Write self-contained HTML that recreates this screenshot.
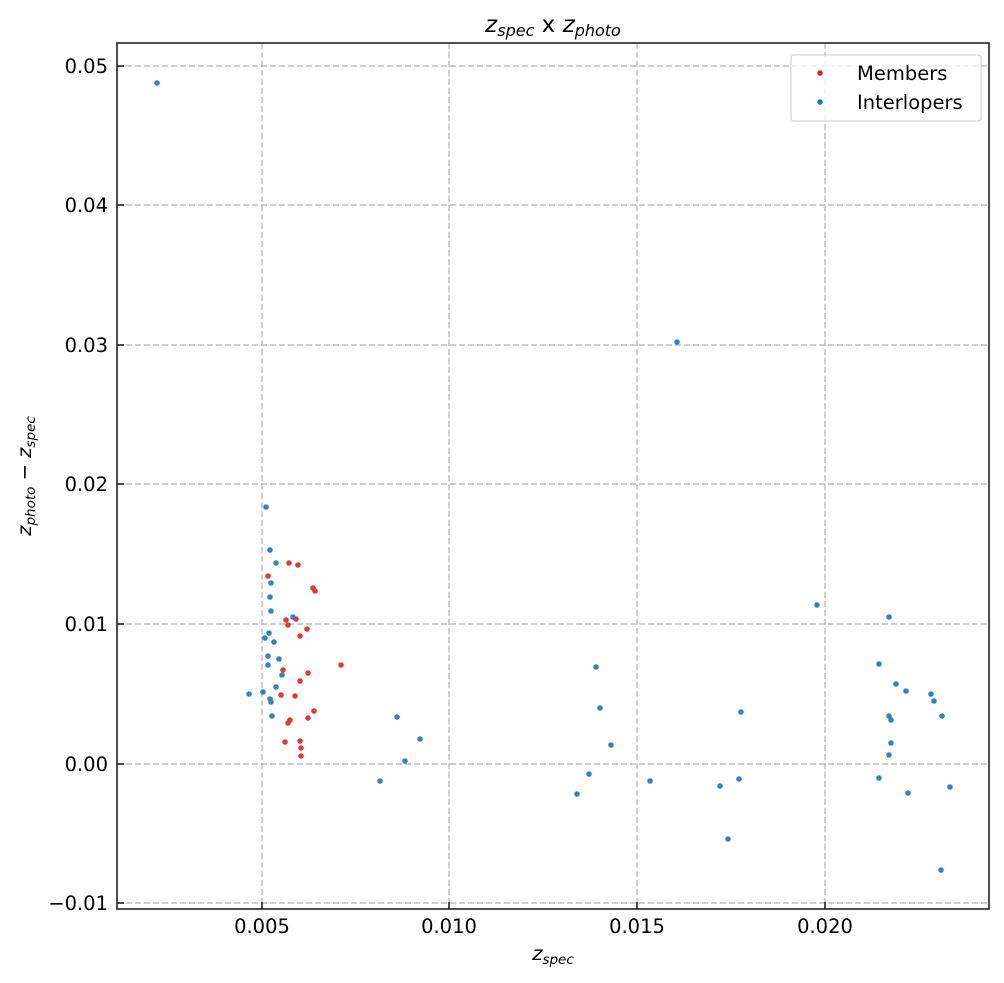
<!DOCTYPE html>
<html><head><meta charset="utf-8"><style>body{margin:0;background:#fff}svg{display:block;font-family:"DejaVu Sans","Liberation Sans",sans-serif}</style></head><body>
<svg width="1004" height="983" xmlns="http://www.w3.org/2000/svg">
<rect width="1004" height="983" fill="#fff"/>
<g stroke="#b0b0b0" stroke-width="1.2" stroke-dasharray="6,3">
<line x1="262" y1="43" x2="262" y2="909"/><line x1="449" y1="43" x2="449" y2="909"/><line x1="637" y1="43" x2="637" y2="909"/><line x1="825" y1="43" x2="825" y2="909"/>
<line x1="117" y1="66" x2="989" y2="66"/><line x1="117" y1="205" x2="989" y2="205"/><line x1="117" y1="345" x2="989" y2="345"/><line x1="117" y1="484" x2="989" y2="484"/><line x1="117" y1="624" x2="989" y2="624"/><line x1="117" y1="764" x2="989" y2="764"/><line x1="117" y1="903" x2="989" y2="903"/>
</g>
<g fill="#d62728" opacity="0.9">
<circle cx="268" cy="576" r="2.8"/><circle cx="289" cy="563" r="2.8"/><circle cx="298" cy="565" r="2.8"/><circle cx="313" cy="588" r="2.8"/><circle cx="315" cy="591" r="2.8"/><circle cx="286" cy="620" r="2.8"/><circle cx="288" cy="625" r="2.8"/><circle cx="296" cy="619" r="2.8"/><circle cx="300" cy="636" r="2.8"/><circle cx="307" cy="629" r="2.8"/><circle cx="283" cy="670" r="2.8"/><circle cx="281" cy="695" r="2.8"/><circle cx="295" cy="696" r="2.8"/><circle cx="300" cy="681" r="2.8"/><circle cx="341" cy="665" r="2.8"/><circle cx="290" cy="720" r="2.8"/><circle cx="288" cy="723" r="2.8"/><circle cx="308" cy="718" r="2.8"/><circle cx="314" cy="711" r="2.8"/><circle cx="285" cy="742" r="2.8"/><circle cx="300" cy="741" r="2.8"/><circle cx="301" cy="748" r="2.8"/><circle cx="301" cy="756" r="2.8"/><circle cx="308" cy="673" r="2.8"/>
</g>
<g fill="#1f77b4" opacity="0.9">
<circle cx="157" cy="83" r="2.8"/><circle cx="677" cy="342" r="2.8"/><circle cx="266" cy="507" r="2.8"/><circle cx="270" cy="550" r="2.8"/><circle cx="276" cy="563" r="2.8"/><circle cx="271" cy="583" r="2.8"/><circle cx="270" cy="597" r="2.8"/><circle cx="271" cy="611" r="2.8"/><circle cx="293" cy="617" r="2.8"/><circle cx="269" cy="633" r="2.8"/><circle cx="265" cy="638" r="2.8"/><circle cx="274" cy="642" r="2.8"/><circle cx="268" cy="656" r="2.8"/><circle cx="279" cy="659" r="2.8"/><circle cx="268" cy="665" r="2.8"/><circle cx="282" cy="675" r="2.8"/><circle cx="276" cy="687" r="2.8"/><circle cx="249" cy="694" r="2.8"/><circle cx="263" cy="692" r="2.8"/><circle cx="270" cy="699" r="2.8"/><circle cx="271" cy="702" r="2.8"/><circle cx="272" cy="716" r="2.8"/><circle cx="397" cy="717" r="2.8"/><circle cx="420" cy="739" r="2.8"/><circle cx="405" cy="761" r="2.8"/><circle cx="380" cy="781" r="2.8"/><circle cx="589" cy="774" r="2.8"/><circle cx="577" cy="794" r="2.8"/><circle cx="596" cy="667" r="2.8"/><circle cx="600" cy="708" r="2.8"/><circle cx="611" cy="745" r="2.8"/><circle cx="650" cy="781" r="2.8"/><circle cx="720" cy="786" r="2.8"/><circle cx="728" cy="839" r="2.8"/><circle cx="739" cy="779" r="2.8"/><circle cx="741" cy="712" r="2.8"/><circle cx="817" cy="605" r="2.8"/><circle cx="889" cy="617" r="2.8"/><circle cx="879" cy="664" r="2.8"/><circle cx="896" cy="684" r="2.8"/><circle cx="906" cy="691" r="2.8"/><circle cx="931" cy="694" r="2.8"/><circle cx="934" cy="701" r="2.8"/><circle cx="889" cy="716" r="2.8"/><circle cx="891" cy="720" r="2.8"/><circle cx="942" cy="716" r="2.8"/><circle cx="891" cy="743" r="2.8"/><circle cx="889" cy="755" r="2.8"/><circle cx="879" cy="778" r="2.8"/><circle cx="908" cy="793" r="2.8"/><circle cx="950" cy="787" r="2.8"/><circle cx="941" cy="870" r="2.8"/>
</g>
<rect x="117" y="43" width="872" height="866" fill="none" stroke="#222" stroke-width="1.6"/>
<g stroke="#222" stroke-width="1.6">
<line x1="262" y1="909" x2="262" y2="902"/><line x1="449" y1="909" x2="449" y2="902"/><line x1="637" y1="909" x2="637" y2="902"/><line x1="825" y1="909" x2="825" y2="902"/>
<line x1="117" y1="66" x2="124" y2="66"/><line x1="117" y1="205" x2="124" y2="205"/><line x1="117" y1="345" x2="124" y2="345"/><line x1="117" y1="484" x2="124" y2="484"/><line x1="117" y1="624" x2="124" y2="624"/><line x1="117" y1="764" x2="124" y2="764"/><line x1="117" y1="903" x2="124" y2="903"/>
</g>
<g font-size="19.5" fill="#000" text-anchor="middle">
<text x="262" y="933">0.005</text><text x="449" y="933">0.010</text><text x="637" y="933">0.015</text><text x="825" y="933">0.020</text>
</g>
<g font-size="19.5" fill="#000" text-anchor="end">
<text x="108" y="73">0.05</text><text x="108" y="212">0.04</text><text x="108" y="352">0.03</text><text x="108" y="491">0.02</text><text x="108" y="631">0.01</text><text x="108" y="771">0.00</text><text x="108" y="910">−0.01</text>
</g>
<text x="553" y="960" font-size="19.5" text-anchor="middle" font-style="italic">z<tspan font-size="13.5" dy="4">spec</tspan></text>
<text transform="translate(31,476) rotate(-90)" font-size="19.5" text-anchor="middle"><tspan font-style="italic">z</tspan><tspan font-size="13.5" dy="4" font-style="italic">photo</tspan><tspan dy="-4"> − </tspan><tspan font-style="italic">z</tspan><tspan font-size="13.5" dy="4" font-style="italic">spec</tspan></text>
<text x="553" y="32" font-size="23" text-anchor="middle"><tspan font-style="italic">z</tspan><tspan font-size="16" dy="4" font-style="italic">spec</tspan><tspan dy="-4"> x </tspan><tspan font-style="italic">z</tspan><tspan font-size="16" dy="4" font-style="italic">photo</tspan></text>
<rect x="791" y="55" width="190" height="66" rx="3" fill="#fff" fill-opacity="0.8" stroke="#ccc"/>
<circle cx="820" cy="73" r="2.8" fill="#d62728"/><circle cx="820" cy="102" r="2.8" fill="#1f77b4"/>
<text x="857" y="80" font-size="19.5">Members</text><text x="857" y="109" font-size="19.5">Interlopers</text>
</svg>
</body></html>
